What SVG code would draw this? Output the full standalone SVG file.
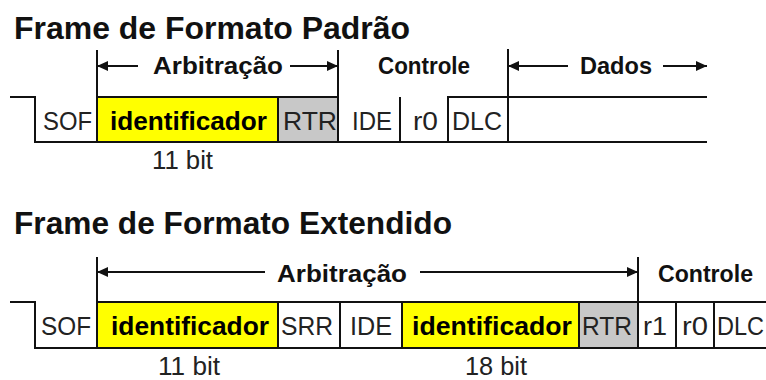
<svg xmlns="http://www.w3.org/2000/svg" width="766" height="380" viewBox="0 0 766 380">
<style>
  text { font-family: "Liberation Sans", Arial, sans-serif; fill: #111; }
  .title { font-size: 32px; font-weight: bold; }
  .hdr { font-size: 24px; font-weight: bold; }
  .lbl { font-size: 25px; fill: #222; }
  .id { font-size: 25px; font-weight: bold; fill: #000; }
  .ln { stroke: #111; stroke-width: 2; fill: none; }
  .yel { fill: #ffff00; stroke: #111; stroke-width: 2; }
  .gry { fill: #c8c8c8; stroke: #111; stroke-width: 2; }
  .box { fill: #ffffff; stroke: #111; stroke-width: 2; }
  .arr { stroke: #111; stroke-width: 1.8; fill: none; marker-end: url(#ah); }
</style>
<defs>
  <marker id="ah" viewBox="0 0 11 10" refX="11" refY="5" markerWidth="11" markerHeight="10" markerUnits="userSpaceOnUse" orient="auto">
    <path d="M0,0 L11,5 L0,10 z" fill="#111"/>
  </marker>
</defs>
<rect width="766" height="380" fill="#ffffff"/>

<!-- Standard frame -->
<g id="std-title"><text class="title" x="14" y="39" textLength="396" lengthAdjust="spacingAndGlyphs">Frame de Formato Padrão</text></g>
<g id="std-signal">
  <path class="ln" d="M10,97 H35 V142 H707"/>
  <path class="ln" d="M508,97 H707"/>
  <path class="ln" d="M97,50 V97 M338,50 V97 M508,49 V97"/>
</g>
<g id="std-sof"><text class="lbl" x="43" y="130" textLength="49" lengthAdjust="spacingAndGlyphs">SOF</text></g>
<g id="std-identificador">
  <rect class="yel" x="97" y="97" width="181" height="45"/>
  <text class="id" x="110" y="130" textLength="157" lengthAdjust="spacingAndGlyphs">identificador</text>
  <text class="lbl" x="152" y="169" textLength="61" lengthAdjust="spacingAndGlyphs">11 bit</text>
</g>
<g id="std-rtr">
  <rect class="gry" x="278" y="97" width="60" height="45"/>
  <text class="lbl" x="283" y="130" textLength="54" lengthAdjust="spacingAndGlyphs">RTR</text>
</g>
<g id="std-ide">
  <line class="ln" x1="400" y1="97" x2="400" y2="143"/>
  <text class="lbl" x="352" y="130" textLength="40" lengthAdjust="spacingAndGlyphs">IDE</text>
</g>
<g id="std-r0"><text class="lbl" x="413" y="130" textLength="25" lengthAdjust="spacingAndGlyphs">r0</text></g>
<g id="std-dlc">
  <rect class="box" x="448" y="97" width="60" height="45"/>
  <text class="lbl" x="452" y="130" textLength="50" lengthAdjust="spacingAndGlyphs">DLC</text>
</g>
<g id="std-headers">
  <text class="hdr" x="153" y="74" textLength="130" lengthAdjust="spacingAndGlyphs">Arbitração</text>
  <text class="hdr" x="378" y="74" textLength="92" lengthAdjust="spacingAndGlyphs">Controle</text>
  <text class="hdr" x="580" y="74" textLength="72" lengthAdjust="spacingAndGlyphs">Dados</text>
</g>

<!-- Extended frame -->
<g id="ext-title"><text class="title" x="14" y="234" textLength="438" lengthAdjust="spacingAndGlyphs">Frame de Formato Extendido</text></g>
<g id="ext-signal">
  <path class="ln" d="M10,302 H35 V348 H766"/>
  <path class="ln" d="M97,302 H766"/>
  <path class="ln" d="M97,257 V302 M638,257 V348"/>
</g>
<g id="ext-sof"><text class="lbl" x="41" y="335" textLength="50" lengthAdjust="spacingAndGlyphs">SOF</text></g>
<g id="ext-identificador-a">
  <rect class="yel" x="97" y="302" width="181" height="46"/>
  <text class="id" x="111" y="335" textLength="158" lengthAdjust="spacingAndGlyphs">identificador</text>
  <text class="lbl" x="158" y="375" textLength="62" lengthAdjust="spacingAndGlyphs">11 bit</text>
</g>
<g id="ext-srr">
  <line class="ln" x1="340" y1="302" x2="340" y2="349"/>
  <text class="lbl" x="281" y="335" textLength="52" lengthAdjust="spacingAndGlyphs">SRR</text>
</g>
<g id="ext-ide"><text class="lbl" x="350" y="335" textLength="42" lengthAdjust="spacingAndGlyphs">IDE</text></g>
<g id="ext-identificador-b">
  <rect class="yel" x="402" y="302" width="177" height="46"/>
  <text class="id" x="412" y="335" textLength="160" lengthAdjust="spacingAndGlyphs">identificador</text>
  <text class="lbl" x="465" y="375" textLength="62" lengthAdjust="spacingAndGlyphs">18 bit</text>
</g>
<g id="ext-rtr">
  <rect class="gry" x="579" y="302" width="59" height="46"/>
  <text class="lbl" x="582" y="335" textLength="50" lengthAdjust="spacingAndGlyphs">RTR</text>
</g>
<g id="ext-r1">
  <line class="ln" x1="676" y1="302" x2="676" y2="348"/>
  <text class="lbl" x="643" y="335" textLength="24" lengthAdjust="spacingAndGlyphs">r1</text>
</g>
<g id="ext-r0">
  <line class="ln" x1="714" y1="302" x2="714" y2="348"/>
  <text class="lbl" x="682" y="335" textLength="26" lengthAdjust="spacingAndGlyphs">r0</text>
</g>
<g id="ext-dlc"><text class="lbl" x="717" y="335" textLength="47" lengthAdjust="spacingAndGlyphs">DLC</text></g>
<g id="ext-headers">
  <text class="hdr" x="277" y="282" textLength="130" lengthAdjust="spacingAndGlyphs">Arbitração</text>
  <text class="hdr" x="658" y="282" textLength="95" lengthAdjust="spacingAndGlyphs">Controle</text>
</g>

<!-- Connectors (dimension arrows) -->
<g id="connectors">
  <line class="arr" x1="138" y1="66" x2="97" y2="66"/>
  <line class="arr" x1="290" y1="66" x2="338" y2="66"/>
  <line class="arr" x1="568" y1="66" x2="508" y2="66"/>
  <line class="arr" x1="663" y1="66" x2="707" y2="66"/>
  <line class="arr" x1="265" y1="272" x2="97" y2="272"/>
  <line class="arr" x1="420" y1="272" x2="638" y2="272"/>
</g>
</svg>
